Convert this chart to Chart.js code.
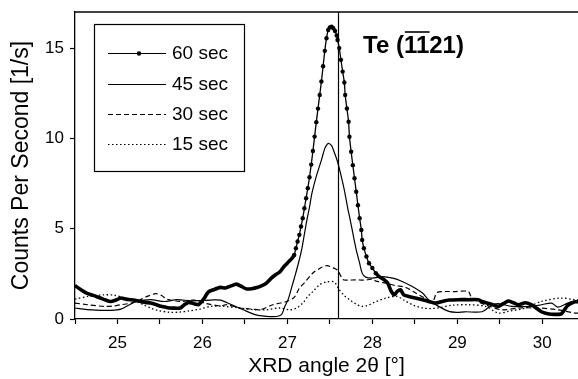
<!DOCTYPE html>
<html>
<head>
<meta charset="utf-8">
<script src="https://cdn.jsdelivr.net/npm/chart.js@4"></script>
<style>
  body { margin: 0; background: #fff; }
  #wrap { width: 578px; height: 379px; position: relative; }
</style>
</head>
<body>
<div id="wrap"><canvas id="xrd"></canvas></div>
<script>
// series: XRD angle 2θ (deg) -> counts per second
const seriesNames = ["60 sec", "45 sec", "30 sec", "15 sec"];

const x60 = [24.50,24.57,24.63,24.69,24.75,24.80,24.86,24.92,24.98,25.04,25.10,25.16,25.22,25.27,25.33,25.39,25.45,25.51,25.57,25.62,
  25.68,25.74,25.79,25.84,25.90,25.95,26.01,26.07,26.13,26.21,26.27,26.33,26.40,26.46,26.52,26.58,26.64,26.70,26.75,26.81,
  26.86,26.91,26.95,26.99,27.03,27.06,27.08,27.10,27.12,27.14,27.16,27.18,27.20,27.22,27.24,27.26,27.28,27.30,27.32,27.34,
  27.36,27.38,27.40,27.42,27.44,27.46,27.48,27.50,27.52,27.54,27.56,27.58,27.59,27.61,27.63,27.65,27.67,27.68,27.70,27.72,
  27.73,27.75,27.77,27.79,27.81,27.83,27.85,27.87,27.88,27.90,27.93,27.96,28.00,28.04,28.08,28.14,28.18,28.22,28.26,28.29,
  28.33,28.37,28.43,28.51,28.59,28.66,28.74,28.82,28.90,29.01,29.13,29.25,29.29,29.38,29.48,29.54,29.60,29.66,29.72,29.80,
  29.87,29.93,29.99,30.05,30.11,30.22,30.26,30.30,30.38,30.42];
const y60 = [1.85,1.62,1.45,1.34,1.25,1.16,1.05,0.97,1.05,1.16,1.10,1.07,1.02,0.97,0.92,0.88,0.80,0.70,0.65,0.61,
  0.60,0.61,0.80,0.92,0.85,0.79,1.07,1.50,1.62,1.75,1.72,1.82,1.93,1.80,1.66,1.68,1.74,1.85,1.97,2.26,
  2.45,2.60,2.85,3.05,3.25,3.40,3.55,3.92,4.29,4.66,5.12,5.58,6.13,6.69,7.24,7.85,8.55,9.30,10.10,10.90,
  11.65,12.40,13.15,14.00,14.85,15.55,16.00,16.15,16.18,16.10,15.95,15.70,15.45,15.00,14.35,13.70,13.10,12.40,11.66,10.92,
  10.09,9.26,8.52,7.79,7.05,6.30,5.58,4.93,4.38,3.92,3.46,3.09,2.82,2.54,2.35,2.17,1.99,1.55,1.34,1.52,
  1.62,1.34,1.25,1.16,1.07,0.97,0.88,0.97,1.05,1.07,1.07,1.07,0.97,0.85,0.70,0.85,1.00,0.90,0.79,0.90,
  0.79,0.60,0.40,0.30,0.26,0.28,0.50,0.75,0.95,0.95];

const x45 = [24.50,24.60,24.69,24.80,24.92,25.04,25.14,25.23,25.39,25.55,25.70,25.86,25.97,26.10,26.21,26.33,26.48,26.62,26.75,26.87,
  26.93,26.97,27.01,27.05,27.09,27.13,27.17,27.20,27.23,27.26,27.29,27.34,27.40,27.44,27.47,27.49,27.52,27.55,27.59,27.63,
  27.67,27.71,27.73,27.77,27.81,27.85,27.88,27.92,28.00,28.12,28.24,28.35,28.47,28.59,28.66,28.78,28.90,28.99,29.09,29.29,
  29.40,29.48,29.64,29.87,29.99,30.11,30.18,30.26,30.34,30.42];
const y45 = [0.61,0.55,0.51,0.48,0.48,0.55,0.79,0.97,1.07,0.97,1.07,1.01,1.02,1.05,1.05,0.82,0.51,0.24,0.15,0.14,
  0.24,0.70,1.10,1.75,2.40,3.10,3.90,4.70,5.50,6.20,7.00,7.90,8.80,9.45,9.68,9.72,9.60,9.25,8.71,7.97,
  7.14,6.13,5.70,4.75,3.83,3.09,2.54,2.32,2.26,2.35,2.26,2.08,1.80,1.44,1.07,0.70,0.42,0.37,0.40,0.40,
  0.75,0.85,0.70,0.70,0.79,0.88,0.66,0.79,0.97,1.00];

const x30 = [24.50,24.65,24.84,24.95,25.04,25.16,25.27,25.35,25.45,25.52,25.58,25.74,25.90,26.05,26.21,26.29,26.44,26.58,26.68,26.83,
  26.99,27.08,27.14,27.20,27.30,27.38,27.46,27.53,27.59,27.65,27.69,27.81,27.90,28.00,28.04,28.16,28.27,28.39,28.51,28.60,
  28.68,28.72,28.76,28.84,28.98,29.13,29.17,29.33,29.52,29.72,29.95,30.18,30.38,30.42];
const y30 = [0.88,0.79,0.70,0.72,0.79,0.88,1.07,1.25,1.40,1.30,1.10,0.97,1.05,0.85,0.73,0.79,0.61,0.55,0.51,0.79,
  0.97,1.20,1.70,2.00,2.55,2.80,2.95,2.85,2.70,2.20,2.15,2.17,2.15,2.20,2.10,1.99,1.85,1.75,1.44,1.20,
  1.00,1.05,1.47,1.52,1.52,1.52,1.16,0.79,0.51,0.61,0.61,0.51,0.33,0.33];

const x15 = [24.50,24.65,24.84,24.96,25.10,25.19,25.30,25.39,25.47,25.62,25.72,25.85,25.97,26.10,26.25,26.44,26.60,26.75,26.91,27.03,
  27.11,27.18,27.24,27.30,27.38,27.46,27.55,27.61,27.67,27.73,27.80,27.87,27.94,28.02,28.16,28.29,28.37,28.47,28.59,28.70,
  28.78,28.94,29.13,29.33,29.48,29.60,29.80,29.99,30.22,30.38,30.42];
const y15 = [1.10,1.25,1.34,1.32,1.15,1.07,0.80,0.61,0.48,0.37,0.38,0.45,0.55,0.70,0.70,0.61,0.52,0.51,0.61,0.51,
  0.61,0.88,1.25,1.52,1.90,2.05,2.05,1.62,1.30,1.07,0.85,0.70,0.75,0.92,1.16,1.25,1.05,0.79,0.61,0.58,
  0.62,0.76,0.79,0.70,0.33,0.42,0.61,0.97,1.16,1.07,1.07];

const xTicks = [24.5,25,25.5,26,26.5,27,27.5,28,28.5,29,29.5,30];
const yTicks = [0,5,10,15];
const peakLine = 27.59;      // vertical marker at the Te reflection
const markRange = [27.07, 28.05]; // part of the 60 sec scan drawn with visible points

const FONT = "'Liberation Sans', Arial, Helvetica, sans-serif";

function pairs(xs, ys){
  return xs.map((x, i) => ({x: x, y: ys[i]}));
}

function inMarks(x){
  return x >= markRange[0] && x <= markRange[1];
}

// legend, top border, vertical marker line and the Te label
const decorations = {
  id: 'decorations',
  afterDatasetsDraw(chart){
    const ctx = chart.ctx;
    const area = chart.chartArea;
    const xs = chart.scales.x;
    ctx.save();
    ctx.strokeStyle = '#000';
    ctx.fillStyle = '#000';

    ctx.lineWidth = 1.3;
    ctx.beginPath();
    ctx.moveTo(area.left, area.top);
    ctx.lineTo(area.right, area.top);
    ctx.stroke();

    const vx = Math.round(xs.getPixelForValue(peakLine)) + 0.5;
    ctx.lineWidth = 1.2;
    ctx.beginPath();
    ctx.moveTo(vx, area.top);
    ctx.lineTo(vx, area.bottom);
    ctx.stroke();

    // legend box
    ctx.fillStyle = '#fff';
    ctx.fillRect(94, 24, 150, 147);
    ctx.lineWidth = 1.2;
    ctx.strokeRect(94.5, 24.5, 150, 147);
    ctx.fillStyle = '#000';
    ctx.font = '19px ' + FONT;
    ctx.textBaseline = 'middle';
    const rows = [53, 84, 114, 144];
    const dashes = [[], [], [5, 3], [1.5, 2.5]];
    seriesNames.forEach((name, i) => {
      const y = rows[i] + 0.5;
      ctx.setLineDash(dashes[i]);
      ctx.lineWidth = 1.2;
      ctx.beginPath();
      ctx.moveTo(108, y);
      ctx.lineTo(166, y);
      ctx.stroke();
      ctx.setLineDash([]);
      if (i === 0) {
        ctx.beginPath();
        ctx.arc(139, y, 2.2, 0, Math.PI * 2);
        ctx.fill();
      }
      ctx.fillText(name, 172, rows[i] + 1);
    });

    // "Te (1̄1̄21)" with bars over the first two digits
    ctx.font = 'bold 24px ' + FONT;
    ctx.textBaseline = 'middle';
    const tx = 363, ty = 46;
    ctx.fillText('Te (1121)', tx, ty);
    const pre = ctx.measureText('Te (').width;
    const one = ctx.measureText('1').width;
    ctx.lineWidth = 1.6;
    ctx.beginPath();
    ctx.moveTo(tx + pre + 1, 32);
    ctx.lineTo(tx + pre + one * 2 - 1, 32);
    ctx.stroke();
    ctx.restore();
  }
};

const config = {
  type: 'line',
  data: {
    datasets: [
      {
        label: seriesNames[0],
        data: pairs(x60, y60),
        borderColor: '#000',
        backgroundColor: '#000',
        borderWidth: 1.3,
        tension: 0.2,
        pointRadius: ctx => inMarks(ctx.raw ? ctx.raw.x : 0) ? 2.2 : 0,
        pointBorderWidth: 0,
        segment: {
          borderWidth: s => (inMarks(s.p0.parsed.x) && inMarks(s.p1.parsed.x)) ? 1.3 : 3.6
        }
      },
      {
        label: seriesNames[1],
        data: pairs(x45, y45),
        borderColor: '#000',
        borderWidth: 1.2,
        tension: 0.3,
        pointRadius: 0
      },
      {
        label: seriesNames[2],
        data: pairs(x30, y30),
        borderColor: '#000',
        borderWidth: 1.2,
        borderDash: [5, 3],
        tension: 0.3,
        pointRadius: 0
      },
      {
        label: seriesNames[3],
        data: pairs(x15, y15),
        borderColor: '#000',
        borderWidth: 1.3,
        borderDash: [1.5, 2.5],
        tension: 0.3,
        pointRadius: 0
      }
    ]
  },
  options: {
    responsive: true,
    maintainAspectRatio: false,
    animation: false,
    layout: { padding: 0 },
    plugins: {
      legend: { display: false },
      tooltip: { enabled: false }
    },
    scales: {
      x: {
        type: 'linear',
        min: 24.5,
        max: 30.42,
        afterBuildTicks: s => { s.ticks = xTicks.map(v => ({value: v})); },
        afterFit: s => { s.height = 60; s.paddingLeft = 0; s.paddingRight = 0; },
        grid: { drawOnChartArea: false, drawTicks: true, tickLength: 5, color: '#000', tickWidth: 1.2 },
        border: { display: true, color: '#000', width: 1.3 },
        ticks: {
          autoSkip: false,
          maxRotation: 0,
          padding: 9,
          color: '#000',
          font: { family: FONT, size: 17 },
          callback: v => Number.isInteger(v) ? String(v) : ''
        },
        title: {
          display: true,
          text: 'XRD angle 2θ [°]',
          color: '#000',
          font: { family: FONT, size: 21 },
          padding: { top: 1, bottom: 0 }
        }
      },
      y: {
        min: 0,
        max: 17,
        afterBuildTicks: s => { s.ticks = yTicks.map(v => ({value: v})); },
        afterFit: s => { s.width = 75; s.paddingTop = 12; s.paddingBottom = 0; },
        grid: { drawOnChartArea: false, drawTicks: true, tickLength: 5, color: '#000', tickWidth: 1.2 },
        border: { display: true, color: '#000', width: 1.3 },
        ticks: {
          padding: 6,
          color: '#000',
          font: { family: FONT, size: 17 }
        },
        title: {
          display: true,
          text: 'Counts Per Second [1/s]',
          color: '#000',
          font: { family: FONT, size: 23 },
          padding: { top: 8, bottom: 0 }
        }
      }
    }
  },
  plugins: [decorations]
};

const myCanvas = document.getElementById('xrd');
new Chart(myCanvas, config);
</script>
</body>
</html>
